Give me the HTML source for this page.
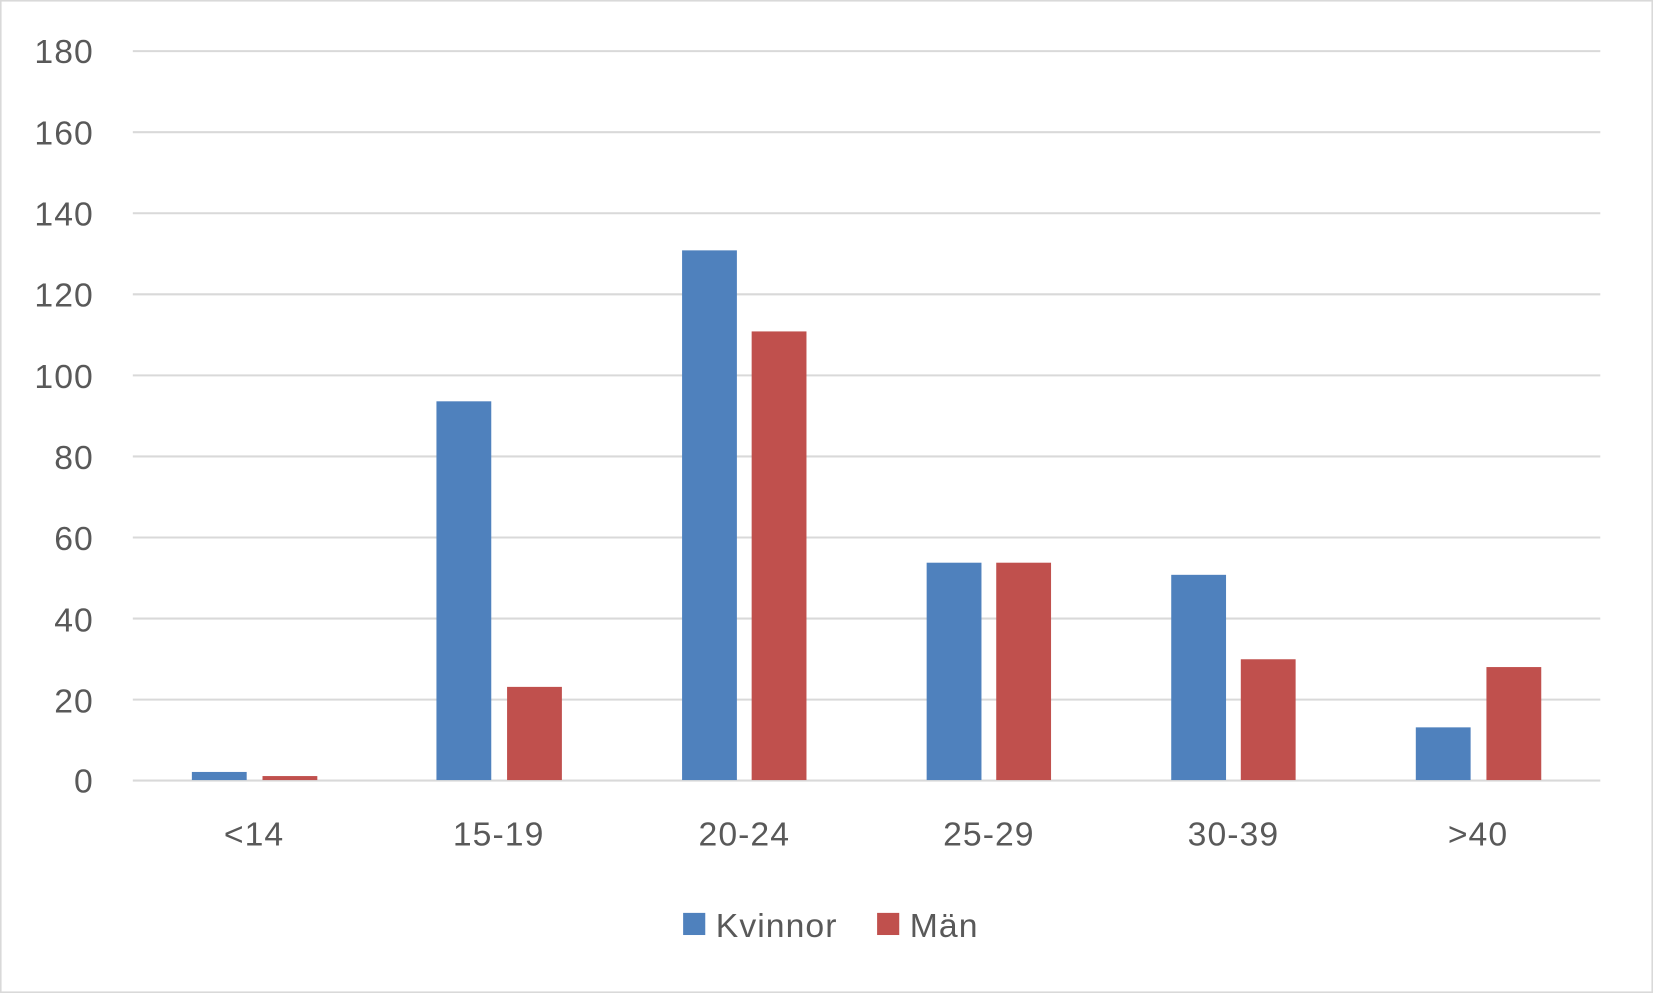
<!DOCTYPE html>
<html><head><meta charset="utf-8"><style>html,body{margin:0;padding:0;background:#fff}svg{display:block}</style></head><body>
<svg width="1653" height="993" viewBox="0 0 1568 942" preserveAspectRatio="none" xmlns="http://www.w3.org/2000/svg" font-family="Liberation Sans, sans-serif" fill="#595959">
<rect x="0.5" y="0.5" width="1567" height="941" fill="#fff" stroke="#d9d9d9" stroke-width="2"/>
<g stroke="#d9d9d9" stroke-width="2">
<line x1="126" x2="1518" y1="48.5" y2="48.5"/>
<line x1="126" x2="1518" y1="125.4" y2="125.4"/>
<line x1="126" x2="1518" y1="202.3" y2="202.3"/>
<line x1="126" x2="1518" y1="279.2" y2="279.2"/>
<line x1="126" x2="1518" y1="356.1" y2="356.1"/>
<line x1="126" x2="1518" y1="433" y2="433"/>
<line x1="126" x2="1518" y1="509.9" y2="509.9"/>
<line x1="126" x2="1518" y1="586.8" y2="586.8"/>
<line x1="126" x2="1518" y1="663.7" y2="663.7"/>
<line x1="126" x2="1518" y1="740.5" y2="740.5"/>
</g>
<g font-size="32" text-anchor="end" letter-spacing="1">
<text x="89" y="60">180</text><text x="89" y="137">160</text><text x="89" y="214">140</text>
<text x="89" y="291">120</text><text x="89" y="368">100</text><text x="89" y="445">80</text>
<text x="89" y="522">60</text><text x="89" y="599">40</text><text x="89" y="676">20</text>
<text x="89" y="752">0</text>
</g>
<g fill="#4f81bd">
<rect x="182" y="732.3" width="52" height="7.7"/>
<rect x="414" y="380.7" width="52" height="359.3"/>
<rect x="647" y="237.5" width="52" height="502.5"/>
<rect x="879" y="533.8" width="52" height="206.2"/>
<rect x="1111" y="545.3" width="52" height="194.7"/>
<rect x="1343" y="690" width="52" height="50"/>
</g>
<g fill="#c0504d">
<rect x="249" y="736.2" width="52" height="3.8"/>
<rect x="481" y="651.6" width="52" height="88.4"/>
<rect x="713" y="314.4" width="52" height="425.6"/>
<rect x="945" y="533.8" width="52" height="206.2"/>
<rect x="1177" y="625.4" width="52" height="114.6"/>
<rect x="1410" y="632.8" width="52" height="107.2"/>
</g>
<g font-size="32" text-anchor="middle" letter-spacing="1">
<text x="241" y="802">&lt;14</text><text x="473" y="802">15-19</text><text x="706" y="802">20-24</text>
<text x="938" y="802">25-29</text><text x="1170" y="802">30-39</text><text x="1402" y="802">&gt;40</text>
</g>
<rect x="648" y="866" width="21" height="21" fill="#4f81bd"/>
<text x="679" y="889" font-size="32" letter-spacing="1">Kvinnor</text>
<rect x="832" y="866" width="21" height="21" fill="#c0504d"/>
<text x="863" y="889" font-size="32" letter-spacing="1">Män</text>
</svg>
</body></html>
